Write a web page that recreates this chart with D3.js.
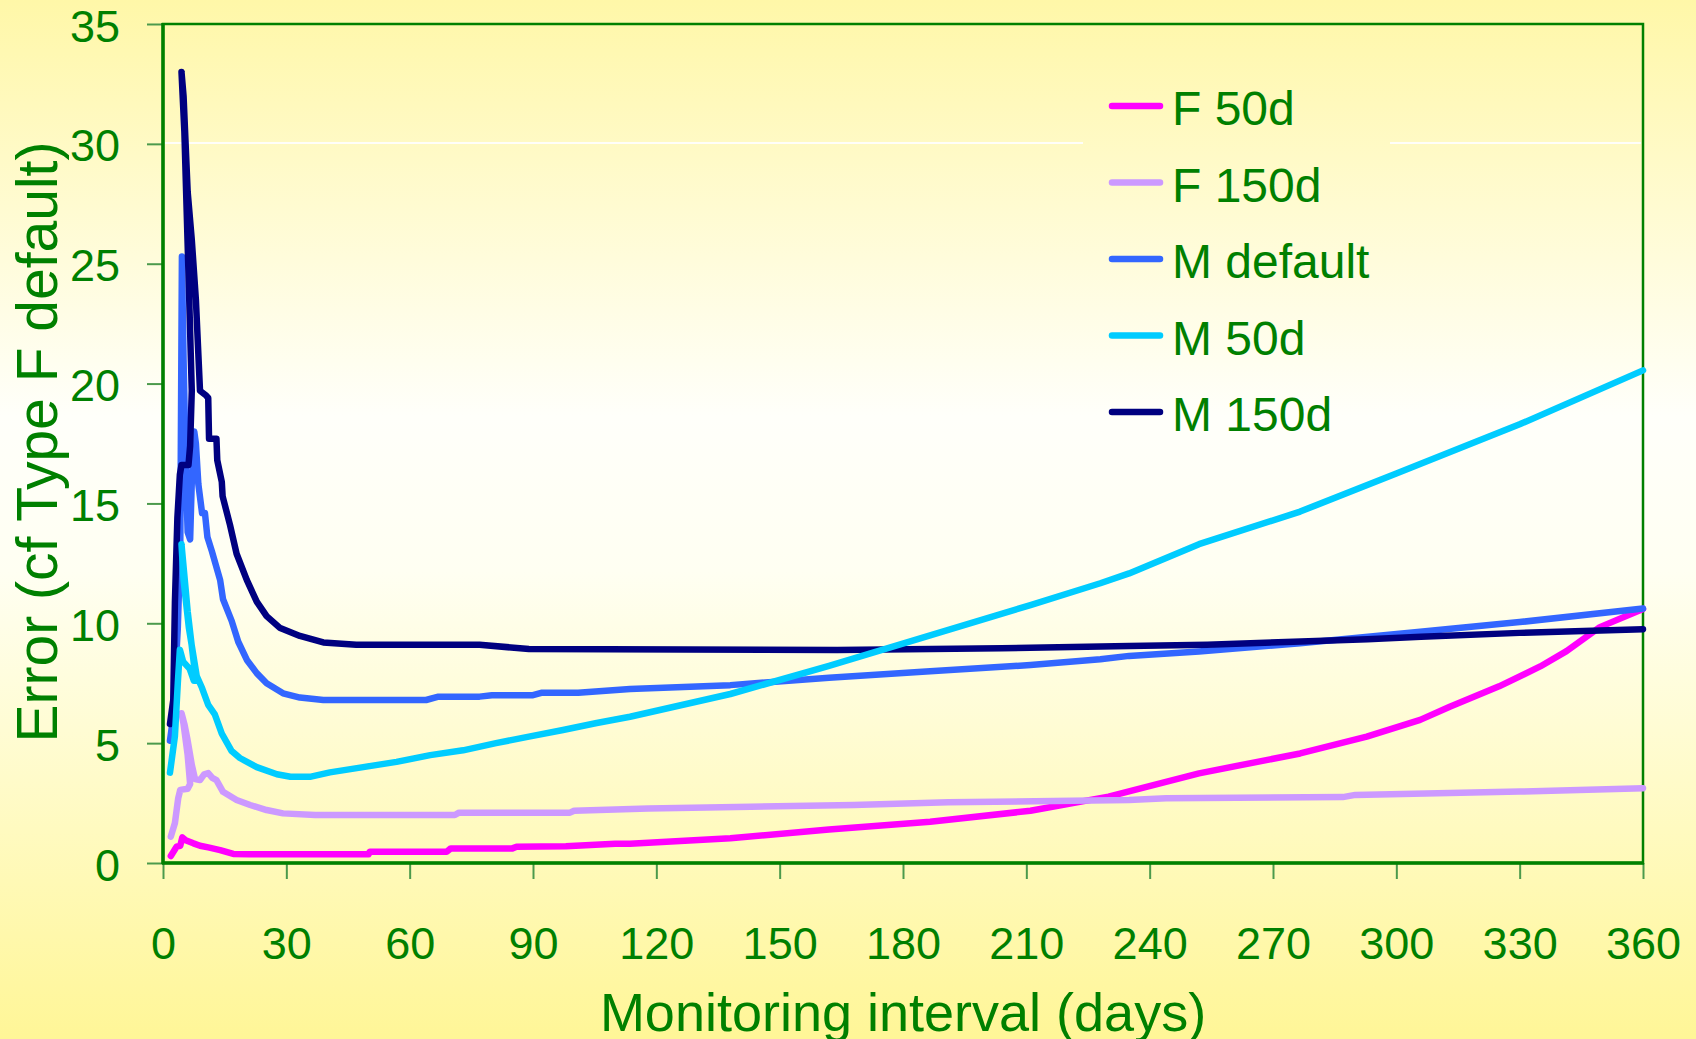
<!DOCTYPE html>
<html lang="en">
  <head>
    <meta charset="UTF-8" />
    <title>Error vs monitoring interval</title>
    <script src="https://d3js.org/d3.v7.min.js"></script>
    <style>
      body {
        margin: 0;
        font-family: "Liberation Sans", Arial, sans-serif;
      }
      svg {
        display: block;
      }
    </style>
  </head>
  <body>
    <svg id="chart"></svg>
    <script>
      // ---- data ----
      const seriesNames = ["F 50d", "F 150d", "M default", "M 50d", "M 150d"];
      const seriesColors = ["#ff00ff", "#cc99ff", "#3366ff", "#00ccff", "#000080"];

      const xTicks = [0, 30, 60, 90, 120, 150, 180, 210, 240, 270, 300, 330, 360];
      const yTicks = [0, 5, 10, 15, 20, 25, 30, 35];

      // F 50d
      const f50Days = [1.9, 3.3, 4.2, 4.7, 5.5, 7.4, 9, 11, 13.9, 17.1, 21, 50, 50.3, 69, 70, 85, 86, 98, 110, 113.6,
        138, 162, 186.6, 211, 230, 252, 276.6, 292.8, 305.8, 313, 325, 335, 341.4, 349.5, 360];
      const f50Vals = [0.29, 0.68, 0.72, 1.07, 0.95, 0.82, 0.72, 0.65, 0.54, 0.38, 0.36, 0.36, 0.47, 0.47, 0.61, 0.61, 0.68, 0.7, 0.8, 0.8,
        1.03, 1.4, 1.72, 2.18, 2.77, 3.74, 4.57, 5.27, 5.97, 6.52, 7.37, 8.2, 8.84, 9.84, 10.6];

      // F 150d
      const f150Days = [1.9, 2.9, 3.7, 4.2, 6.0, 6.6, 6.0, 5.0, 4.5, 5.2, 5.9, 7.0, 7.8, 9, 10, 11, 12, 13, 14.6, 17.9,
        21.2, 25.2, 29.2, 37, 71, 72, 99, 100, 118, 143, 168, 191, 235, 244, 287, 290, 330, 360];
      const f150Vals = [1.1, 1.67, 2.7, 3.05, 3.1, 3.3, 4.5, 5.8, 6.25, 5.8, 5.2, 4.1, 3.5, 3.46, 3.7, 3.75, 3.55, 3.46, 2.97, 2.63,
        2.42, 2.21, 2.07, 2.0, 2.0, 2.1, 2.1, 2.18, 2.27, 2.35, 2.42, 2.53, 2.63, 2.7, 2.75, 2.84, 2.98, 3.12];

      // M default
      const mDefDays = [1.7, 2.4, 3.6, 4.2, 4.6, 5.0, 5.6, 6.0, 6.6, 7.0, 7.6, 8.0, 8.6, 9.5, 10.2, 10.8, 11.9, 13.9, 14.6, 16.7,
        18.3, 20.4, 22.8, 25.2, 29.2, 33.3, 39, 64, 67, 77, 80, 90, 92, 101, 113.6, 138, 162, 186.6, 211, 228,
        235, 252, 276.6, 305.8, 330, 360];
      const mDefVals = [5.1, 6.0, 9.8, 13.2, 25.3, 21, 16, 13.8, 13.5, 15.9, 18.0, 17.5, 15.8, 14.6, 14.6, 13.6, 13.0, 11.8, 11.0, 10.1,
        9.23, 8.47, 7.92, 7.5, 7.08, 6.9, 6.8, 6.8, 6.94, 6.94, 7.0, 7.0, 7.1, 7.1, 7.26, 7.42, 7.73, 8.0, 8.26, 8.5,
        8.64, 8.82, 9.17, 9.65, 10.05, 10.62];

      // M 50d
      const m50Days = [1.7, 2.9, 3.6, 4.1, 4.9, 6.5, 7.5, 8.0, 6.0, 4.5, 5.0, 6.3, 8.2, 9.5, 11, 12.6, 14.3, 16.7, 18.7, 22.8,
        27.7, 31, 36, 40.6, 48.7, 56.8, 65, 73, 81, 89, 97.3, 105.5, 113.6, 138, 162, 186.6, 211, 228, 235, 252,
        276.6, 300, 330, 360];
      const m50Vals = [3.77, 5.3, 7.5, 8.9, 8.4, 8.1, 7.6, 7.6, 10.5, 13.3, 11.8, 9.8, 7.8, 7.3, 6.6, 6.2, 5.4, 4.67, 4.38, 4.0,
        3.7, 3.6, 3.6, 3.78, 4.0, 4.22, 4.5, 4.7, 5.0, 5.27, 5.55, 5.84, 6.1, 7.05, 8.22, 9.5, 10.76, 11.67, 12.08, 13.3,
        14.66, 16.25, 18.3, 20.55];

      // M 150d
      const m150Days = [1.7, 2.5, 2.9, 3.5, 4.1, 4.5, 6.2, 6.6, 7.0, 6.3, 5.2, 4.5, 5.0, 6.0, 7.0, 8.0, 9.0, 10.5, 11, 11.2,
        13, 13.2, 14.3, 14.5, 16.3, 17.9, 20.4, 22.8, 25.2, 28.5, 33.3, 39, 47, 77, 89, 164, 204, 235, 254, 275,
        293, 306, 330, 360];
      const m150Vals = [5.8, 6.8, 10.9, 14.4, 16.2, 16.6, 16.6, 17.4, 19.7, 24, 30.5, 33, 32, 28, 26, 23.5, 19.7, 19.5, 19.4, 17.7,
        17.7, 16.8, 15.9, 15.3, 14.1, 12.9, 11.8, 10.9, 10.3, 9.8, 9.47, 9.2, 9.1, 9.1, 8.93, 8.89, 8.96, 9.05, 9.1, 9.23,
        9.33, 9.44, 9.6, 9.75];

      const seriesDays = [f50Days, f150Days, mDefDays, m50Days, m150Days];
      const seriesVals = [f50Vals, f150Vals, mDefVals, m50Vals, m150Vals];
      // drawing order (cyan ends up on top, as in the picture)
      const drawOrder = [0, 1, 2, 4, 3];

      // ---- layout ----
      const W = 1696, H = 1039;
      const margin = { top: 24, right: 53, bottom: 176, left: 163 };
      const width = W - margin.left - margin.right;
      const height = H - margin.top - margin.bottom;
      const green = "#008000";

      const svg = d3.select("#chart").attr("width", W).attr("height", H);

      // background gradient
      const defs = svg.append("defs");
      const grad = defs.append("linearGradient")
        .attr("id", "bg").attr("x1", 0).attr("y1", 0).attr("x2", 0).attr("y2", 1);
      grad.append("stop").attr("offset", "0%").attr("stop-color", "#fff7a8");
      grad.append("stop").attr("offset", "40%").attr("stop-color", "#fffffa");
      grad.append("stop").attr("offset", "55%").attr("stop-color", "#fffff2");
      grad.append("stop").attr("offset", "100%").attr("stop-color", "#fff697");
      svg.append("rect").attr("width", W).attr("height", H).attr("fill", "url(#bg)");

      const g = svg.append("g").attr("transform", `translate(${margin.left},${margin.top})`);

      const x = d3.scaleLinear().domain([0, 360]).range([0, width]);
      const y = d3.scaleLinear().domain([0, 35]).range([height, 0]);

      // faint white banding line of the original gradient
      g.append("line").attr("x1", 2).attr("x2", 920).attr("y1", 119).attr("y2", 119)
        .attr("stroke", "#ffffff").attr("stroke-width", 2).attr("opacity", 0.9);
      g.append("line").attr("x1", 1227).attr("x2", width - 2).attr("y1", 119).attr("y2", 119)
        .attr("stroke", "#ffffff").attr("stroke-width", 2).attr("opacity", 0.9);

      // axes
      const xAxis = d3.axisBottom(x).tickValues(xTicks).tickSize(16).tickPadding(48).tickSizeOuter(0);
      const yAxis = d3.axisLeft(y).tickValues(yTicks).tickSize(16).tickPadding(27).tickSizeOuter(0);

      const gx = g.append("g").attr("transform", `translate(0,${height})`).call(xAxis);
      const gy = g.append("g").call(yAxis);

      [gx, gy].forEach((ax) => {
        ax.select(".domain").remove();
        ax.selectAll(".tick line").attr("stroke", "#4c9a4c").attr("stroke-width", 2);
        ax.selectAll(".tick text")
          .attr("fill", green)
          .style("font-family", '"Liberation Sans", Arial, sans-serif')
          .style("font-size", "45px");
      });
      gy.selectAll(".tick text").attr("dy", "0.38em");
      gx.selectAll(".tick text").attr("dy", "0.71em");

      // frame
      g.append("rect").attr("width", width).attr("height", height)
        .attr("fill", "none").attr("stroke", green).attr("stroke-width", 2.5);
      g.append("line").attr("x1", -1).attr("x2", width + 1).attr("y1", height).attr("y2", height)
        .attr("stroke", green).attr("stroke-width", 3.5);
      g.append("line").attr("x1", 0).attr("x2", 0).attr("y1", -1).attr("y2", height + 1)
        .attr("stroke", green).attr("stroke-width", 3.5);

      // series lines
      const line = d3.line().x((d) => x(d[0])).y((d) => y(d[1]));
      drawOrder.forEach((i) => {
        const pts = seriesDays[i].map((d, k) => [d, seriesVals[i][k]]);
        g.append("path")
          .datum(pts)
          .attr("d", line)
          .attr("fill", "none")
          .attr("stroke", seriesColors[i])
          .attr("stroke-width", 6.5)
          .attr("stroke-linejoin", "round")
          .attr("stroke-linecap", "round");
      });

      // legend
      const legend = svg.append("g").attr("transform", "translate(1110,109)");
      seriesNames.forEach((name, i) => {
        const row = legend.append("g").attr("transform", `translate(0,${i * 76.5})`);
        row.append("line").attr("x1", 2).attr("x2", 50).attr("y1", -3).attr("y2", -3)
          .attr("stroke", seriesColors[i]).attr("stroke-width", 6.5).attr("stroke-linecap", "round");
        row.append("text").attr("x", 62).attr("y", 16)
          .attr("fill", green).style("font-size", "48px").text(name);
      });

      // axis titles
      svg.append("text")
        .attr("x", margin.left + width / 2).attr("y", 1031)
        .attr("text-anchor", "middle").attr("fill", green)
        .style("font-size", "54px").text("Monitoring interval (days)");

      svg.append("text")
        .attr("transform", "translate(57,442) rotate(-90)")
        .attr("text-anchor", "middle").attr("fill", green)
        .style("font-size", "57px").text("Error (cf Type F default)");
    </script>
  </body>
</html>
